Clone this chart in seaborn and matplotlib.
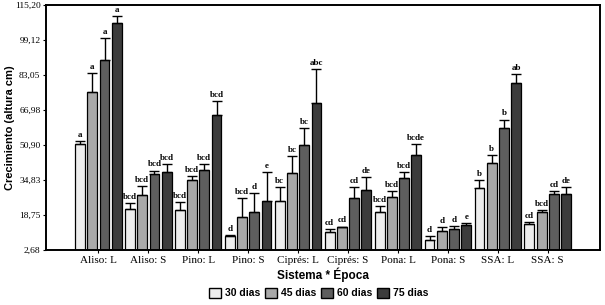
import pandas as pd
import matplotlib
matplotlib.use("Agg")
import matplotlib.pyplot as plt
import seaborn as sns
from matplotlib.patches import Patch

# Data
sistemas = ["Aliso: L", "Aliso: S", "Pino: L", "Pino: S", "Ciprés: L",
            "Ciprés: S", "Pona: L", "Pona: S", "SSA: L", "SSA: S"]
epocas = ["30 dias", "45 dias", "60 dias", "75 dias"]

media_30 = [51.2, 21.5, 21.0, 9.1, 25.3, 10.8, 20.0, 7.3, 31.4, 14.6]
media_45 = [75.1, 27.9, 34.8, 18.0, 37.9, 13.1, 27.1, 11.5, 42.5, 20.1]
media_60 = [89.8, 37.4, 39.4, 20.0, 50.7, 26.5, 35.6, 12.3, 58.5, 28.4]
media_75 = [106.8, 38.5, 64.6, 25.3, 70.0, 30.2, 46.3, 14.2, 79.4, 28.4]

error_30 = [1.5, 2.9, 3.8, 0.6, 6.4, 1.5, 2.9, 1.8, 3.4, 1.1]
error_45 = [8.8, 4.3, 1.8, 8.5, 7.9, 0.4, 2.8, 1.9, 3.8, 0.9]
error_60 = [10.1, 1.8, 2.6, 9.0, 7.8, 5.2, 2.9, 1.5, 4.1, 1.5]
error_75 = [3.2, 3.6, 6.6, 13.3, 15.7, 5.8, 5.0, 1.0, 4.0, 3.3]

letras_30 = ["a", "bcd", "bcd", "d", "bc", "cd", "bcd", "d", "b", "cd"]
letras_45 = ["a", "bcd", "bcd", "bcd", "bc", "cd", "bcd", "d", "b", "bcd"]
letras_60 = ["a", "bcd", "bcd", "d", "bc", "cd", "bcd", "d", "b", "cd"]
letras_75 = ["a", "bcd", "bcd", "e", "abc", "de", "bcde", "e", "ab", "de"]

y_ticks = [2.68, 18.75, 34.83, 50.90, 66.98, 83.05, 99.12, 115.20]
colores = ["#ededed", "#a9a9a9", "#5e5e5e", "#3c3c3c"]

medias = [media_30, media_45, media_60, media_75]
errores = [error_30, error_45, error_60, error_75]
letras = [letras_30, letras_45, letras_60, letras_75]

rows = []
for e, m in zip(epocas, medias):
    for s, v in zip(sistemas, m):
        rows.append({"Sistema": s, "Epoca": e, "Crecimiento": v})
df = pd.DataFrame(rows)

fig = plt.figure(figsize=(6.05, 3.05), dpi=100)
ax = fig.add_axes([0.076, 0.180, 0.916, 0.804])

sns.barplot(data=df, x="Sistema", y="Crecimiento", hue="Epoca",
            order=sistemas, hue_order=epocas, palette=colores,
            width=0.98, gap=0.2, errorbar=None, legend=False,
            edgecolor="black", linewidth=0.9, ax=ax)

# error bars (upper only) and letters from bar positions
bars = ax.patches
for i in range(len(epocas)):
    for j in range(len(sistemas)):
        p = bars[i * len(sistemas) + j]
        xc = p.get_x() + p.get_width() / 2
        top = p.get_height()
        err = errores[i][j]
        ax.errorbar(xc, top, yerr=[[0], [err]], fmt="none", ecolor="black",
                    elinewidth=1.0, capsize=3.5, capthick=1.0)
        ax.text(xc, top + err + 1.0, letras[i][j], ha="center", va="bottom",
                fontsize=6.5, family="Liberation Serif", fontweight="bold")

ax.set_ylim(2.68, 115.20)
ax.set_xlim(-1.05, 10.05)
ax.set_yticks(y_ticks)
ax.set_yticklabels([f"{t:.2f}".replace(".", ",") for t in y_ticks],
                   family="Liberation Serif", fontsize=6.8)
ax.set_xticks(range(len(sistemas)))
ax.set_xticklabels(sistemas, family="Liberation Serif", fontsize=8)
ax.tick_params(axis="both", length=2, width=0.8, pad=2)

for sp in ax.spines.values():
    sp.set_linewidth(1.4)
    sp.set_color("black")

ax.set_ylabel("Crecimiento (altura cm)", family="Liberation Sans",
              fontweight="bold", fontsize=8)
ax.yaxis.set_label_coords(-0.056, 0.5)
ax.set_xlabel("Sistema * Época", family="Liberation Sans",
              fontweight="bold", fontsize=8.5, labelpad=2)

handles = [Patch(facecolor=c, edgecolor="black", linewidth=1.0) for c in colores]
fig.legend(handles, epocas, loc="center", bbox_to_anchor=(0.527, 0.04),
           ncol=4, frameon=False, handlelength=1.1, handleheight=1.1,
           handletextpad=0.4, columnspacing=0.5,
           prop={"family": "Liberation Sans", "weight": "bold", "size": 7.5})

fig.savefig("out.png", dpi=100)
